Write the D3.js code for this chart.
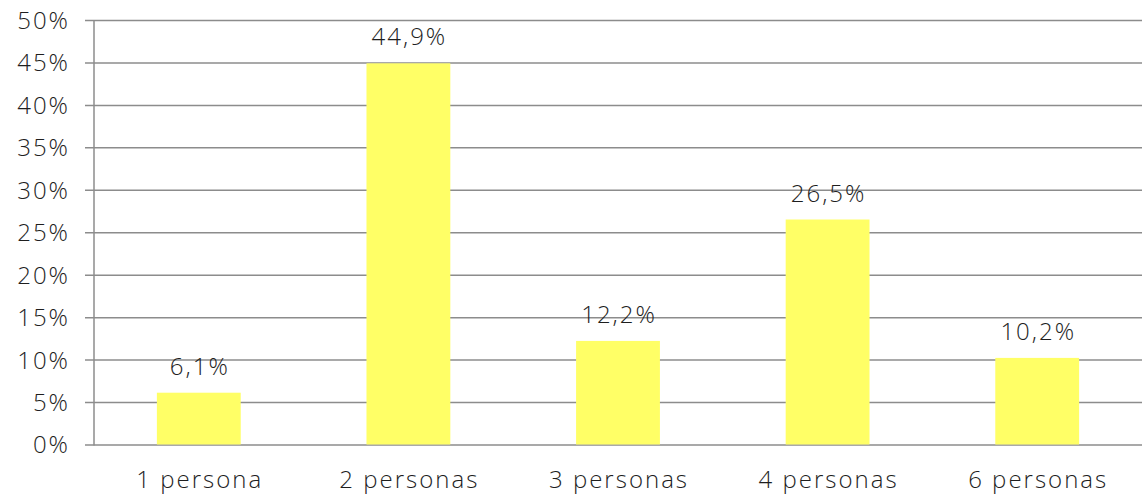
<!DOCTYPE html>
<html>
<head>
<meta charset="utf-8">
<script src="https://cdn.jsdelivr.net/npm/d3@7"></script>
<style>
  body { margin: 0; background: #fff; }
  text { font-family: "Open Sans", Lato, sans-serif; font-weight: 300; fill: #1e1e1e; letter-spacing: 2px; }
</style>
</head>
<body>
<div id="chart"></div>
<script>
// Data
const categories = ["1 persona", "2 personas", "3 personas", "4 personas", "6 personas"];
const values = [6.1, 44.9, 12.2, 26.5, 10.2];
const yTicks = [0, 5, 10, 15, 20, 25, 30, 35, 40, 45, 50];

const dims = { width: 1142, height: 500, left: 94, right: 1142, top: 20, bottom: 444.5 };

const svg = d3.select("#chart")
  .append("svg")
  .attr("width", dims.width)
  .attr("height", dims.height);

const xScale = d3.scaleBand()
  .domain(categories)
  .range([dims.left, dims.right])
  .paddingInner(0.6)
  .paddingOuter(0.3);

const yScale = d3.scaleLinear()
  .domain([0, 50])
  .range([dims.bottom, dims.top]);

const fmt = d => String(d).replace(".", ",") + "%";

// gridlines + y ticks
const yAxis = d3.axisLeft(yScale)
  .tickValues(yTicks)
  .tickSize(-(dims.right - dims.left))
  .tickFormat(d => d + "%");

const yAxisGroup = svg.append("g")
  .attr("transform", `translate(${dims.left},0)`)
  .call(yAxis);

yAxisGroup.select(".domain").remove();
yAxisGroup.selectAll(".tick line")
  .attr("x1", -9)
  .attr("stroke", "#8c8c8c")
  .attr("stroke-width", 1.5);
yAxisGroup.selectAll(".tick text")
  .attr("x", -24)
  .attr("dy", "0.35em")
  .style("font-size", "24px");

// vertical axis line
svg.append("line")
  .attr("x1", dims.left).attr("x2", dims.left)
  .attr("y1", dims.top).attr("y2", dims.bottom + 1)
  .attr("stroke", "#8c8c8c")
  .attr("stroke-width", 1.5);

// bars
svg.selectAll(".bar")
  .data(values)
  .join("rect")
  .attr("class", "bar")
  .attr("x", (d, i) => xScale(categories[i]))
  .attr("y", d => yScale(d))
  .attr("width", xScale.bandwidth())
  .attr("height", d => yScale(0) - yScale(d))
  .attr("fill", "#ffff66");

// value labels
svg.selectAll(".val")
  .data(values)
  .join("text")
  .attr("class", "val")
  .attr("x", (d, i) => xScale(categories[i]) + xScale.bandwidth() / 2 + 1)
  .attr("y", d => yScale(d) - 18)
  .attr("text-anchor", "middle")
  .style("font-size", "24px")
  .text(fmt);

// x labels
const xAxis = d3.axisBottom(xScale).tickSize(0);
const xAxisGroup = svg.append("g")
  .attr("transform", `translate(0,${dims.bottom})`)
  .call(xAxis);
xAxisGroup.select(".domain").remove();
xAxisGroup.selectAll(".tick text")
  .attr("x", 1)
  .attr("y", 35)
  .attr("dy", "0.35em")
  .style("font-size", "24px");
</script>
</body>
</html>
